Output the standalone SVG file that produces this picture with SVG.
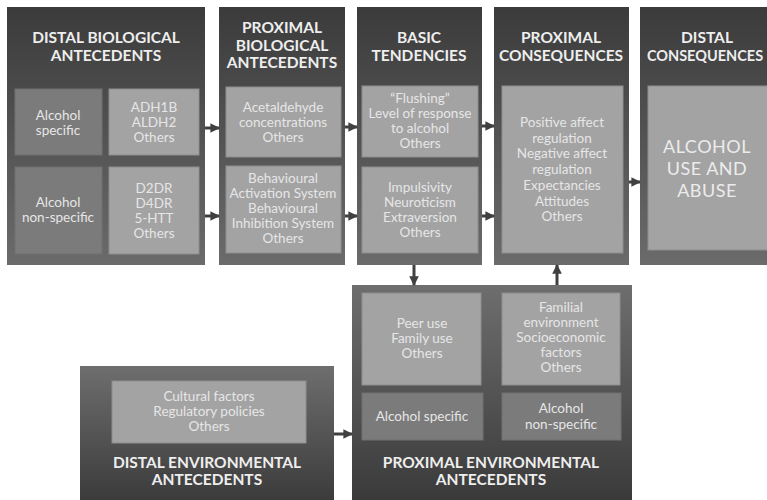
<svg xmlns="http://www.w3.org/2000/svg" width="767" height="500" viewBox="0 0 767 500">
<defs>
<linearGradient id="gTop" x1="0" y1="0" x2="0" y2="1">
<stop offset="0" stop-color="#3b3b3b"/><stop offset="1" stop-color="#6b6b6b"/>
</linearGradient>
<linearGradient id="gBot" x1="0" y1="0" x2="0" y2="1">
<stop offset="0" stop-color="#6e6e6e"/><stop offset="1" stop-color="#393939"/>
</linearGradient>
<marker id="ah" viewBox="0 0 10 10" refX="9" refY="5" markerWidth="3.2" markerHeight="3.2" orient="auto" markerUnits="strokeWidth">
<path d="M0,0 L10,5 L0,10 z" fill="#404040"/>
</marker>
</defs>
<style>
.pt{fill:url(#gTop)}
.pb{fill:url(#gBot)}
.lb{fill:#a3a3a3;stroke:#8e8e8e;stroke-width:1}
.db{fill:#7b7b7b;stroke:#707070;stroke-width:1}
text{font-family:Lato,"Open Sans","Liberation Sans",sans-serif;text-anchor:middle}
.h{fill:#eeeeee;font-size:15.5px;font-weight:bold}
.t{fill:#e6e6e6;font-size:13.5px}
.big{fill:#ececec;font-size:18px;letter-spacing:0.5px}
.c{stroke:#404040;stroke-width:3;fill:none;marker-end:url(#ah)}
</style>
<rect width="767" height="500" fill="#ffffff"/>

<g id="distal-bio">
<rect class="pt" x="7" y="7" width="198" height="258"/>
<text class="h" x="106" y="43">DISTAL BIOLOGICAL</text>
<text class="h" x="106" y="61">ANTECEDENTS</text>
<rect class="db" x="15" y="89" width="87" height="66"/>
<text class="t" x="58" y="120">Alcohol</text>
<text class="t" x="58" y="135">specific</text>
<rect class="lb" x="109" y="89" width="90" height="66"/>
<text class="t" x="154" y="112">ADH1B</text>
<text class="t" x="154" y="127">ALDH2</text>
<text class="t" x="154" y="142">Others</text>
<rect class="db" x="15" y="167" width="87" height="87"/>
<text class="t" x="58" y="207">Alcohol</text>
<text class="t" x="58" y="222">non-specific</text>
<rect class="lb" x="109" y="167" width="90" height="87"/>
<text class="t" x="154" y="193">D2DR</text>
<text class="t" x="154" y="208">D4DR</text>
<text class="t" x="154" y="223">5-HTT</text>
<text class="t" x="154" y="238">Others</text>
</g>

<g id="proximal-bio">
<rect class="pt" x="219" y="7" width="126" height="258"/>
<text class="h" x="282" y="33">PROXIMAL</text>
<text class="h" x="282" y="51">BIOLOGICAL</text>
<text class="h" x="282" y="68">ANTECEDENTS</text>
<rect class="lb" x="226" y="87" width="115" height="70"/>
<text class="t" x="283" y="112">Acetaldehyde</text>
<text class="t" x="283" y="127">concentrations</text>
<text class="t" x="283" y="142">Others</text>
<rect class="lb" x="226" y="166" width="115" height="87"/>
<text class="t" x="283" y="183">Behavioural</text>
<text class="t" x="283" y="198">Activation  System</text>
<text class="t" x="283" y="213">Behavioural</text>
<text class="t" x="283" y="228">Inhibition  System</text>
<text class="t" x="283" y="243">Others</text>
</g>

<g id="basic-tendencies">
<rect class="pt" x="357" y="7" width="125" height="258"/>
<text class="h" x="419" y="43">BASIC</text>
<text class="h" x="419" y="61">TENDENCIES</text>
<rect class="lb" x="362" y="86" width="116" height="71"/>
<text class="t" x="420" y="103">“Flushing”</text>
<text class="t" x="420" y="118">Level of response</text>
<text class="t" x="420" y="133">to alcohol</text>
<text class="t" x="420" y="148">Others</text>
<rect class="lb" x="362" y="167" width="116" height="86"/>
<text class="t" x="420" y="192">Impulsivity</text>
<text class="t" x="420" y="207">Neuroticism</text>
<text class="t" x="420" y="222">Extraversion</text>
<text class="t" x="420" y="237">Others</text>
</g>

<g id="proximal-consequences">
<rect class="pt" x="494" y="7" width="135" height="258"/>
<text class="h" x="561" y="43">PROXIMAL</text>
<text class="h" x="561" y="61">CONSEQUENCES</text>
<rect class="lb" x="502" y="86" width="121" height="167"/>
<text class="t" x="562" y="127">Positive affect</text>
<text class="t" x="562" y="142.7">regulation</text>
<text class="t" x="562" y="158.4">Negative affect</text>
<text class="t" x="562" y="174.1">regulation</text>
<text class="t" x="562" y="189.8">Expectancies</text>
<text class="t" x="562" y="205.5">Attitudes</text>
<text class="t" x="562" y="221.2">Others</text>
</g>

<g id="distal-consequences">
<rect class="pt" x="640" y="7" width="140" height="258"/>
<text class="h" x="707" y="43">DISTAL</text>
<text class="h" x="705" y="61" style="font-size:14.5px">CONSEQUENCES</text>
<rect class="lb" x="648" y="86" width="125" height="164"/>
<text class="big" x="707" y="153">ALCOHOL</text>
<text class="big" x="707" y="175">USE AND</text>
<text class="big" x="707" y="197">ABUSE</text>
</g>

<g id="proximal-env">
<rect class="pb" x="352" y="285" width="280" height="220"/>
<rect class="lb" x="362" y="293" width="119" height="92"/>
<text class="t" x="422" y="328">Peer use</text>
<text class="t" x="422" y="343">Family use</text>
<text class="t" x="422" y="358">Others</text>
<rect class="lb" x="502" y="293" width="118" height="92"/>
<text class="t" x="561" y="312">Familial</text>
<text class="t" x="561" y="327">environment</text>
<text class="t" x="561" y="342">Socioeconomic</text>
<text class="t" x="561" y="357">factors</text>
<text class="t" x="561" y="372">Others</text>
<rect class="db" x="362" y="393" width="121" height="47"/>
<text class="t" x="422" y="421">Alcohol specific</text>
<rect class="db" x="502" y="393" width="119" height="47"/>
<text class="t" x="561" y="413">Alcohol</text>
<text class="t" x="561" y="429">non-specific</text>
<text class="h" x="491" y="468">PROXIMAL ENVIRONMENTAL</text>
<text class="h" x="491" y="485">ANTECEDENTS</text>
</g>

<g id="distal-env">
<rect class="pb" x="80" y="366" width="254" height="140"/>
<rect class="lb" x="112" y="381" width="194" height="62"/>
<text class="t" x="209" y="401">Cultural factors</text>
<text class="t" x="209" y="416">Regulatory policies</text>
<text class="t" x="209" y="431">Others</text>
<text class="h" x="207" y="468">DISTAL ENVIRONMENTAL</text>
<text class="h" x="207" y="485">ANTECEDENTS</text>
</g>

<g id="connectors">
<line class="c" x1="205" y1="128" x2="219" y2="128"/>
<line class="c" x1="205" y1="216" x2="219" y2="216"/>
<line class="c" x1="345" y1="127" x2="357" y2="127"/>
<line class="c" x1="345" y1="216" x2="357" y2="216"/>
<line class="c" x1="482" y1="126" x2="494" y2="126"/>
<line class="c" x1="482" y1="216" x2="494" y2="216"/>
<line class="c" x1="629" y1="182" x2="640" y2="182"/>
<line class="c" x1="414" y1="265" x2="414" y2="285"/>
<line class="c" x1="557" y1="285" x2="557" y2="265"/>
<line class="c" x1="334" y1="434" x2="352" y2="434"/>
</g>
</svg>
